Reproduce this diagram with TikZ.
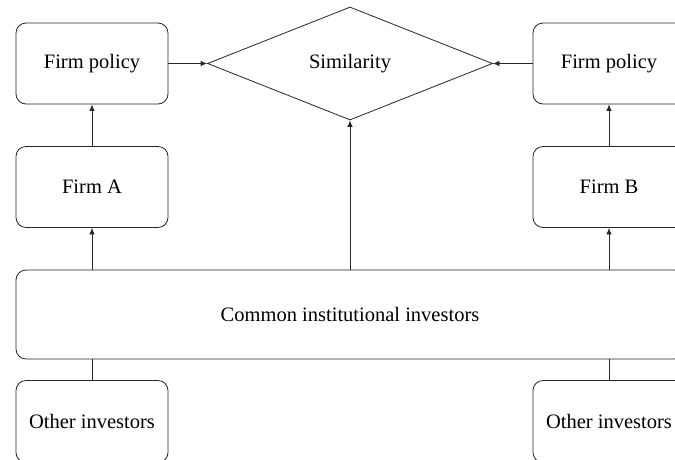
\documentclass[tikz,border=0pt]{standalone}
\usepackage{fontspec}
\setmainfont{Liberation Serif}
\usetikzlibrary{shapes.geometric,arrows.meta}
\begin{document}
\begin{tikzpicture}[x=1pt,y=-1pt,
  box/.style={draw=black!85, line width=0.8pt, rounded corners=10pt, minimum width=152pt, minimum height=81pt, inner sep=0pt, font=\fontsize{20.5}{24}\selectfont},
  dia/.style={draw=black!85, line width=0.8pt, shape=diamond, aspect=2.52, minimum width=285pt, minimum height=113pt, inner sep=0pt, font=\fontsize{20.5}{24}\selectfont},
  arr/.style={draw=black!85, line width=0.8pt, -{Latex[length=6.5pt,width=5.5pt]}},
  ln/.style={draw=black!85, line width=0.8pt}]
\useasboundingbox (0,0) rectangle (675,459);
\fill[white] (0,0) rectangle (675,459);
\clip (0,0) rectangle (675,459);
\node[box] (fpA) at (92,63.5) {Firm policy};
\node[box] (firmA) at (92,187) {Firm A};
\node[dia] (sim) at (350,63.5) {Similarity};
\node[box] (fpB) at (609,63.5) {Firm policy};
\node[box] (firmB) at (609,187) {Firm B};
\node[box, minimum width=668pt, minimum height=89pt] (common) at (350,314.5) {Common institutional investors};
\node[box, minimum height=82pt] (oiA) at (92,421.5) {Other investors};
\node[box, minimum height=82pt] (oiB) at (609,421.5) {Other investors};
\draw[arr] (fpA.east) -- (sim.west);
\draw[arr] (fpB.west) -- (sim.east);
\draw[arr] (firmA.north) -- (fpA.south);
\draw[arr] (firmB.north) -- (fpB.south);
\draw[arr] (common.north -| firmA) -- (firmA.south);
\draw[arr] (common.north -| firmB) -- (firmB.south);
\draw[arr] (common.north -| sim.south) -- (sim.south);
\draw[ln] (oiA.north) -- (common.south -| oiA);
\draw[ln] (oiB.north) -- (common.south -| oiB);
\end{tikzpicture}
\end{document}
